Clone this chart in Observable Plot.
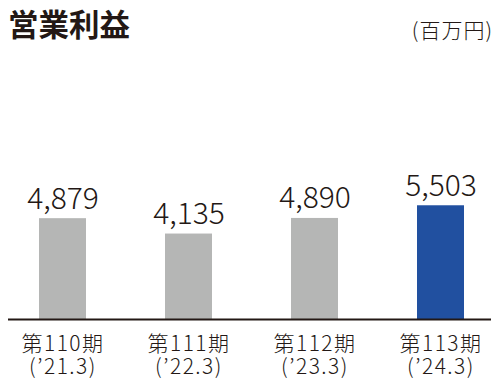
<!DOCTYPE html>
<html><head><meta charset="utf-8">
<script src="https://cdn.jsdelivr.net/npm/d3@7"></script>
<script src="https://cdn.jsdelivr.net/npm/@observablehq/plot@0.6"></script>
<style>
body{margin:0;background:#fff;}
#wrap{position:relative;width:500px;height:380px;font-family:"Noto Sans CJK JP",sans-serif;color:#231815;overflow:hidden;}
#title{position:absolute;left:8px;top:8px;font-size:30.5px;font-weight:700;line-height:1;}
#unit{position:absolute;right:7px;top:19px;font-size:21px;font-weight:300;line-height:1;letter-spacing:1px;}
#chart{position:absolute;left:0;top:55px;}
#chart g[aria-label="x-axis tick label"] text{letter-spacing:1.5px;}
</style>
</head><body>
<div id="wrap">
  <div id="title">営業利益</div>
  <div id="unit">(百万円)</div>
  <div id="chart"></div>
</div>
<script>
const periods = ["第110期", "第111期", "第112期", "第113期"];
const fiscalYears = ["(’21.3)", "(’22.3)", "(’23.3)", "(’24.3)"];
const operatingProfit = [4879, 4135, 4890, 5503];
const currentPeriod = "第113期";

const labels = periods.map((p, i) => p + "\n" + fiscalYears[i]);
const data = periods.map((p, i) => ({period: p, label: labels[i], value: operatingProfit[i]}));

const chart = Plot.plot({
  width: 500,
  height: 325,
  marginTop: 0,
  marginLeft: 8,
  marginRight: 9,
  marginBottom: 61,
  style: {fontFamily: "'Noto Sans CJK JP', sans-serif", color: "#231815", background: "transparent"},
  x: {domain: labels, range: [10, 493], paddingInner: 0.63, paddingOuter: 0.221, label: null},
  y: {domain: [0, 6000], range: [264, 140], axis: null},
  marks: [
    Plot.barY(data, {x: "label", y: "value", fill: d => d.period === currentPeriod ? "#2150a0" : "#b5b6b5"}),
    Plot.ruleY([0], {stroke: "#231815", strokeWidth: 2}),
    Plot.text(data, {x: "label", y: "value", text: d => d3.format(",")(d.value), dy: -10, lineAnchor: "bottom", fontSize: 30, fontWeight: 300, fill: "#231815"}),
    Plot.axisX({tickSize: 0, tickPadding: 15, fontSize: 21, fontWeight: 300, lineHeight: 1.1, label: null, fill: "#231815"})
  ]
});
document.getElementById("chart").appendChild(chart);
</script>
</body></html>
